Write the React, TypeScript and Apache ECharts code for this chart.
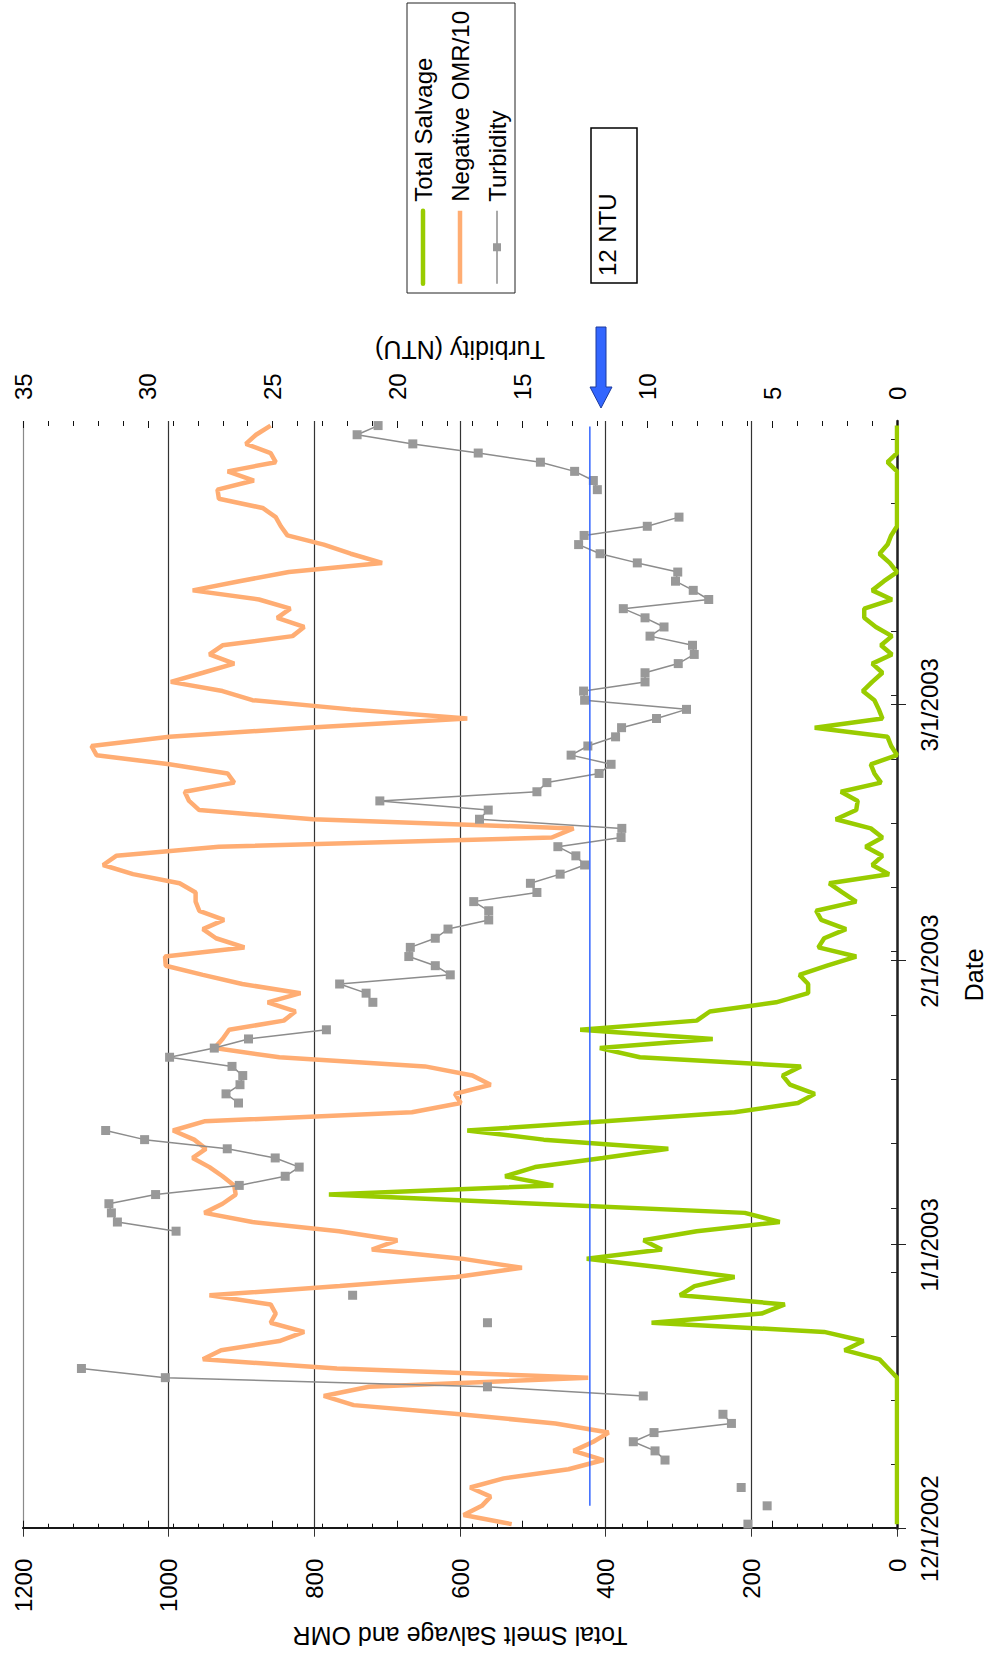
import React, { useEffect, useRef } from "react";
import * as echarts from "echarts";

// ---------- data (one value per day, 12/1/2002 .. 3/31/2003) ----------
const dayAxisMax = 121; // 4/1/2003
const monthTickDays = [0, 31, 62, 90];
const monthTickLabels = ["12/1/2002", "1/1/2003", "2/1/2003", "3/1/2003"];

const totalSalvage = [
  0, 0, 0, 0, 0, 0, 0, 0, 0, 0,
  0, 0, 0, 0, 0, 0, 0, 12, 24, 72,
  46, 100, 337, 186, 154, 298, 278, 223, 320, 426,
  323, 348, 275, 161, 209, 495, 780, 472, 538, 497,
  404, 314, 485, 590, 401, 223, 136, 113, 147, 157,
  132, 353, 408, 253, 435, 275, 257, 166, 122, 122,
  134, 96, 56, 108, 100, 70, 104, 111, 56, 75,
  93, 11, 34, 20, 43, 20, 36, 84, 56, 54,
  77, 22, 31, 36, 0, 8, 13, 113, 20, 25,
  31, 47, 34, 20, 34, 7, 22, 7, 29, 45,
  45, 7, 34, 18, 0, 10, 24, 13, 8, 0,
  0, 0, 0, 0, 0, 0, 13, 0, 0, 0,
  0,
];

const negativeOmr10 = [
  529, 595, 570, 558, 586, 540, 451, 403, 444, 417,
  396, 469, 600, 746, 787, 725, 424, 769, 953, 928,
  848, 814, 860, 853, 860, 944, 765, 605, 515, 598,
  721, 686, 766, 885, 951, 926, 908, 910, 926, 944,
  967, 949, 965, 994, 951, 666, 599, 607, 558, 583,
  648, 848, 937, 926, 917, 842, 826, 864, 819, 899,
  953, 1004, 1005, 896, 935, 953, 924, 958, 963, 963,
  985, 1049, 1090, 1072, 931, 474, 444, 802, 958, 972,
  978, 910, 919, 999, 1099, 1106, 999, 810, 590, 750,
  885, 926, 997, 953, 910, 944, 926, 830, 814, 851,
  833, 876, 967, 903, 835, 707, 750, 787, 837, 846,
  853, 871, 931, 933, 883, 919, 853, 860, 894, 880,
  860,
];

const turbidity: (number | null)[] = [
  5.97, null, 5.2, null, 6.24, null, null, 9.29, 9.69, 10.56,
  9.73, 6.63, 6.97, null, 10.16, 16.4, 29.3, 32.66, null, null,
  null, null, 16.4, null, null, 21.8, null, null, null, null,
  null, null, 28.87, 31.22, 31.46, 31.56, 29.69, 26.34, 24.5, 23.94,
  24.9, 26.82, 30.13, 31.69, null, null, 26.37, 26.87, 26.31, 26.2,
  26.63, 29.13, 27.34, 25.97, 22.85, null, null, 20.99, 21.26, 22.32,
  17.89, 18.49, 19.55, 19.49, 18.49, 17.98, 16.35, 16.35, 16.95, 14.42,
  14.68, 13.49, 12.51, 12.86, 13.58, 11.05, 11.02, 16.72, 16.37, 20.71,
  14.42, 14.02, 11.93, 11.45, 13.05, 12.38, 11.27, 11.03, 9.63, 8.43,
  12.51, 12.55, 10.09, 10.09, 8.76, 8.12, 8.19, 9.89, 9.33, 10.09,
  10.96, 7.54, 8.16, 8.87, 8.78, 10.4, 11.89, 12.75, 12.53, 10.0,
  8.73, null, null, 12.0, 12.16, 12.91, 14.28, 16.77, 19.39, 21.62,
  20.78,
];

const ntuLineDays = [2.5, 120.4];
const ntuLineValue = 12.3;
const ntuLabel = "12 NTU";

const seriesNames = ["Total Salvage", "Negative OMR/10", "Turbidity"];

// ---------- layout (unrotated chart, later turned 90deg counter-clockwise) ----------
const CW = 1656;
const CH = 991;
const FONT = "'Liberation Sans', Arial, Helvetica, sans-serif";
const GREEN = "#99CC00";
const ORANGE = "#FFAD73";
const GREY_LINE = "#8c8c8c";
const GREY_MARK = "#999999";

export default function App() {
  const ref = useRef<HTMLDivElement | null>(null);

  useEffect(() => {
    if (!ref.current) return;
    const chart = echarts.init(ref.current, null, { renderer: "svg", width: CW, height: CH });

    const pos = totalSalvage.map((_, i) => i + 0.5); // Excel "between dates" placement
    const weekTicks: number[] = [];
    for (let d = 7; d < dayAxisMax; d += 7) weekTicks.push(d);
    const innerTicks = weekTicks.concat(monthTickDays).sort((a, b) => a - b);

    const option: any = {
      animation: false,
      backgroundColor: "#ffffff",
      textStyle: { fontFamily: FONT, color: "#000" },
      grid: { left: 124.3, right: 421, top: 23, bottom: 91.5, containLabel: false },
      legend: {
        data: [
          { name: seriesNames[0], itemStyle: { opacity: 0 }, lineStyle: { width: 4.5, color: GREEN, cap: "round" } },
          { name: seriesNames[1], itemStyle: { opacity: 0 }, lineStyle: { width: 4.5, color: ORANGE } },
          { name: seriesNames[2], lineStyle: { width: 1.5, color: GREY_LINE } },
        ],
        orient: "vertical",
        left: 1363,
        top: 407,
        padding: [4, 8, 6, 7],
        itemGap: 13,
        itemWidth: 73,
        itemHeight: 10,
        borderColor: "#222",
        borderWidth: 1,
        backgroundColor: "#fff",
        textStyle: { fontSize: 24, color: "#000", fontFamily: FONT, padding: [0, 0, 0, 4] },
      },
      xAxis: [
        {
          type: "value",
          min: 0,
          max: dayAxisMax,
          position: "bottom",
          name: "Date",
          nameLocation: "middle",
          nameGap: 64,
          nameTextStyle: { fontSize: 25, color: "#000", fontFamily: FONT },
          axisLine: { show: true, onZero: false, lineStyle: { color: "#222", width: 2.5 } },
          axisTick: { show: true, customValues: monthTickDays, length: 9, lineStyle: { color: "#222", width: 1 } },
          axisLabel: {
            show: true,
            customValues: monthTickDays,
            formatter: (v: number) => {
              const k = monthTickDays.indexOf(Math.round(v));
              return k >= 0 ? monthTickLabels[k] : "";
            },
            fontSize: 24,
            margin: 20,
            color: "#000",
            fontFamily: FONT,
          },
          splitLine: { show: false },
        },
        {
          type: "value",
          min: 0,
          max: dayAxisMax,
          position: "bottom",
          axisLine: { show: false, onZero: false },
          axisLabel: { show: false },
          splitLine: { show: false },
          axisTick: { show: true, inside: true, customValues: innerTicks, length: 6, lineStyle: { color: "#222", width: 1 } },
        },
      ],
      yAxis: [
        {
          type: "value",
          min: 0,
          max: 1200,
          interval: 200,
          position: "left",
          name: "Total Smelt Salvage and OMR",
          nameLocation: "middle",
          nameRotate: 90,
          nameGap: 88,
          nameTextStyle: { fontSize: 25, color: "#000", fontFamily: FONT },
          axisLine: { show: true, lineStyle: { color: "#333", width: 2 } },
          axisTick: { show: true, length: 8, lineStyle: { color: "#333", width: 1 } },
          axisLabel: { fontSize: 24, margin: 30, color: "#000", fontFamily: FONT, formatter: (v: number) => String(v) },
          splitLine: {
            show: true,
            lineStyle: { color: ["#333", "#333", "#333", "#333", "#333", "#333", "#8a8a8a"], width: 1.2 },
          },
        },
        {
          type: "value",
          min: 0,
          max: 35,
          interval: 5,
          position: "right",
          name: "Turbidity (NTU)",
          nameLocation: "middle",
          nameRotate: 90,
          nameGap: 58,
          nameTextStyle: { fontSize: 25, color: "#000", fontFamily: FONT },
          axisLine: { show: true, lineStyle: { color: "#111", width: 1.5 } },
          axisTick: { show: true, length: 8, lineStyle: { color: "#111", width: 1 } },
          minorTick: { show: true, splitNumber: 5, length: 5, lineStyle: { color: "#111", width: 1 } },
          axisLabel: { fontSize: 24, margin: 21, color: "#000", fontFamily: FONT, formatter: (v: number) => String(v) },
          splitLine: { show: false },
        },
        {
          type: "value",
          min: 0,
          max: 35,
          interval: 5,
          position: "right",
          axisLine: { show: false },
          axisLabel: { show: false },
          splitLine: { show: false },
          axisTick: { show: true, inside: true, length: 7, lineStyle: { color: "#111", width: 1 } },
          minorTick: { show: true, splitNumber: 5, length: 5, lineStyle: { color: "#111", width: 1 } },
        },
      ],
      series: [
        {
          name: seriesNames[0],
          type: "line",
          xAxisIndex: 0,
          yAxisIndex: 0,
          data: pos.map((d, i) => [d, totalSalvage[i]]),
          symbol: "none",
          lineStyle: { color: GREEN, width: 4.5 },
          itemStyle: { color: GREEN },
          z: 3,
        },
        {
          name: seriesNames[1],
          type: "line",
          xAxisIndex: 0,
          yAxisIndex: 0,
          data: pos.map((d, i) => [d, negativeOmr10[i]]),
          symbol: "none",
          lineStyle: { color: ORANGE, width: 4.5 },
          itemStyle: { color: ORANGE },
          z: 3,
        },
        {
          name: seriesNames[2],
          type: "line",
          xAxisIndex: 0,
          yAxisIndex: 1,
          data: pos.map((d, i) => [d, turbidity[i] == null ? "-" : turbidity[i]]),
          connectNulls: false,
          symbol: "rect",
          symbolSize: 9,
          showSymbol: true,
          showAllSymbol: true,
          lineStyle: { color: GREY_LINE, width: 1.5 },
          itemStyle: { color: GREY_MARK },
          z: 4,
        },
        {
          name: ntuLabel,
          type: "line",
          xAxisIndex: 0,
          yAxisIndex: 1,
          data: ntuLineDays.map((d) => [d, ntuLineValue]),
          symbol: "none",
          lineStyle: { color: "#3366FF", width: 1.5 },
          silent: true,
          z: 5,
        },
      ],
      graphic: [
        {
          type: "rect",
          shape: { x: 1373, y: 591, width: 155, height: 46 },
          style: { fill: "#fff", stroke: "#000", lineWidth: 1.5 },
          z: 10,
        },
        {
          type: "text",
          x: 1380,
          y: 607,
          style: { text: ntuLabel, fontSize: 24, fill: "#000", fontFamily: FONT, verticalAlign: "middle", align: "left" },
          z: 11,
        },
        {
          type: "polygon",
          shape: {
            points: [
              [1248, 601],
              [1269, 590],
              [1269, 596],
              [1329, 596],
              [1329, 606],
              [1269, 606],
              [1269, 612],
            ],
          },
          style: { fill: "#3366FF", stroke: "#1c3a9e", lineWidth: 1 },
          z: 10,
        },
      ],
    };

    chart.setOption(option);
    return () => chart.dispose();
  }, []);

  return (
    <div
      style={{
        position: "fixed",
        left: 0,
        top: 0,
        width: CH,
        height: CW,
        overflow: "hidden",
        background: "#fff",
      }}
    >
      <div
        style={{
          position: "absolute",
          left: 0,
          top: 0,
          width: CW,
          height: CH,
          transformOrigin: "0 0",
          transform: `translate(0px, ${CW}px) rotate(-90deg)`,
        }}
      >
        <div ref={ref} style={{ width: CW, height: CH }} />
      </div>
    </div>
  );
}
